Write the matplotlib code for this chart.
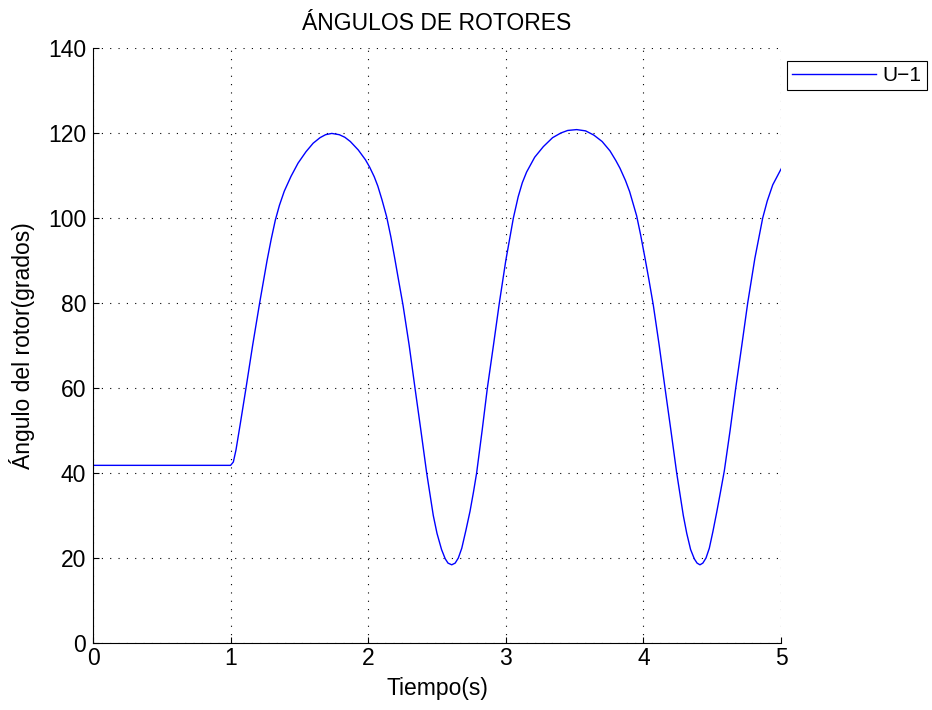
import matplotlib

matplotlib.use("Agg")
import matplotlib.pyplot as plt

# Tiempo (s) and rotor angle (degrees)
tiempo = [0.0, 1.0, 1.02, 1.039, 1.071, 1.112, 1.16, 1.211, 1.265, 1.295,
          1.325, 1.355, 1.39, 1.439, 1.49, 1.548, 1.60, 1.65, 1.69, 1.735,
          1.79, 1.83, 1.87, 1.928, 1.98, 2.01, 2.044, 2.07, 2.10, 2.134,
          2.165, 2.193, 2.22, 2.253, 2.298, 2.34, 2.383, 2.425, 2.473, 2.50,
          2.533, 2.56, 2.58, 2.607, 2.632, 2.655, 2.68, 2.71, 2.74, 2.765,
          2.788, 2.828, 2.866, 2.91, 2.953, 3.0, 3.055, 3.09, 3.12, 3.151,
          3.21, 3.273, 3.34, 3.40, 3.45, 3.515, 3.58, 3.64, 3.70, 3.757,
          3.80, 3.83, 3.87, 3.90, 3.951, 3.98, 4.012, 4.04, 4.072, 4.115,
          4.157, 4.20, 4.242, 4.29, 4.315, 4.343, 4.37, 4.39, 4.411, 4.432,
          4.455, 4.479, 4.505, 4.533, 4.56, 4.588, 4.63, 4.671, 4.715, 4.758,
          4.81, 4.867, 4.90, 4.94, 5.0]
angulo = [41.8, 41.8, 42.6, 45.4, 51.7, 60.0, 70.0, 80.0, 90.0, 95.0,
          99.5, 103.0, 106.3, 109.8, 112.9, 115.6, 117.6, 118.9, 119.6, 119.9,
          119.6, 119.0, 118.0, 116.0, 113.7, 112.0, 109.7, 107.5, 104.3, 100.3,
          95.5, 90.5, 85.5, 79.5, 70.0, 60.0, 50.0, 40.0, 30.0, 25.8,
          22.0, 19.8, 18.8, 18.4, 18.8, 20.0, 22.3, 26.5, 31.0, 35.5,
          40.0, 50.0, 60.0, 70.0, 80.0, 90.0, 100.0, 105.0, 108.3, 110.8,
          114.3, 116.8, 118.9, 120.0, 120.6, 120.8, 120.5, 119.5, 118.0, 115.8,
          113.5, 111.7, 108.8, 106.2, 100.5, 96.0, 90.5, 85.5, 79.5, 70.0,
          60.0, 50.0, 40.0, 30.0, 25.8, 22.0, 19.8, 18.8, 18.4, 18.8,
          20.0, 22.3, 26.2, 30.8, 35.5, 40.5, 50.0, 60.0, 70.0, 80.0,
          90.5, 100.0, 104.0, 107.8, 111.5]

x_ticks = [0, 1, 2, 3, 4, 5]
y_ticks = [0, 20, 40, 60, 80, 100, 120, 140]

plt.rcParams["font.family"] = ["Liberation Sans", "DejaVu Sans"]
fs = 16.5

fig = plt.figure(figsize=(9.32, 7.10), dpi=100)
ax = fig.add_axes([93 / 932, 67 / 710, 688 / 932, 595 / 710])

ax.plot(tiempo, angulo, color="#0000ff", lw=1.0, label="U\u22121")

ax.set_xlim(0, 5)
ax.set_ylim(0, 140)
ax.set_xticks(x_ticks)
ax.set_yticks(y_ticks)
ax.tick_params(direction="in", length=4, width=0.8, labelsize=fs)
ax.tick_params(axis="x", pad=3)
ax.tick_params(axis="y", pad=5)
ax.grid(True, color="black", linestyle=(0, (1, 6.5)), linewidth=0.8)
ax.spines["top"].set_visible(False)
ax.spines["right"].set_visible(False)

ax.set_title("ÁNGULOS DE ROTORES", fontsize=fs, pad=13)
ax.set_xlabel("Tiempo(s)", fontsize=fs, labelpad=5)
ax.set_ylabel("Ángulo del rotor(grados)", fontsize=fs, labelpad=9)

leg = ax.legend(loc="upper left", bbox_to_anchor=(787 / 932, 1 - 61 / 710),
                bbox_transform=fig.transFigure, borderaxespad=0, fontsize=15,
                fancybox=False, framealpha=1, edgecolor="black",
                handlelength=4.0, handletextpad=0.35, borderpad=0.25)
leg.get_frame().set_linewidth(0.8)

fig.savefig("out.png", dpi=100)
plt.close(fig)
